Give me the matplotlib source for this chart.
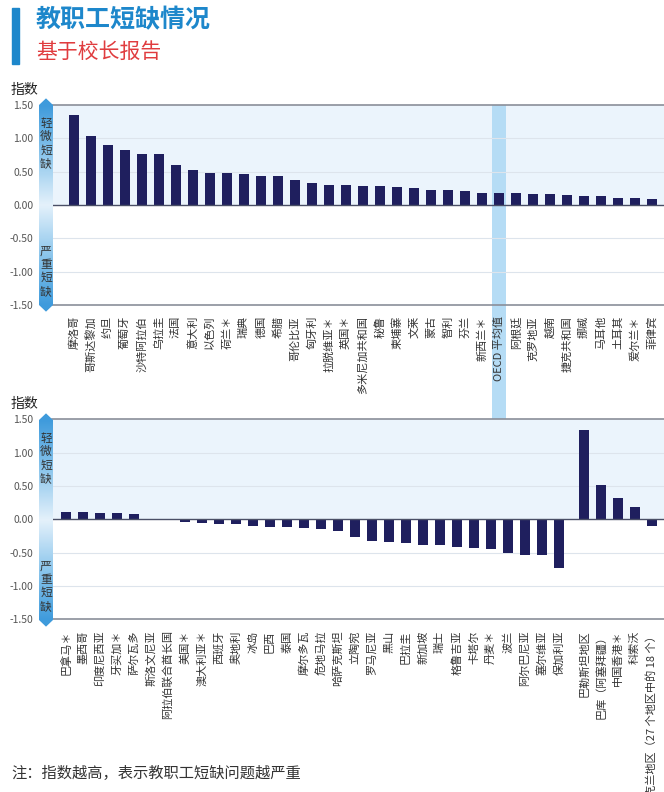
import matplotlib
matplotlib.use('Agg')
import matplotlib.pyplot as plt
import matplotlib.patches as patches
from matplotlib.colors import LinearSegmentedColormap
import numpy as np

plt.rcParams['font.family'] = ['Noto Sans CJK SC', 'DejaVu Sans']

# data
top_labels = ['摩洛哥', '哥斯达黎加', '约旦', '葡萄牙', '沙特阿拉伯', '乌拉圭', '法国', '意大利',
              '以色列', '荷兰＊', '瑞典', '德国', '希腊', '哥伦比亚', '匈牙利', '拉脱维亚＊',
              '英国＊', '多米尼加共和国', '秘鲁', '柬埔寨', '文莱', '蒙古', '智利', '芬兰',
              '新西兰＊', 'OECD 平均值', '阿根廷', '克罗地亚', '越南', '捷克共和国', '挪威',
              '马耳他', '土耳其', '爱尔兰＊', '菲律宾']
top_values = [1.35, 1.04, 0.90, 0.82, 0.76, 0.76, 0.60, 0.52, 0.48, 0.48, 0.46, 0.43,
              0.43, 0.37, 0.33, 0.30, 0.295, 0.29, 0.28, 0.27, 0.26, 0.225, 0.22, 0.21,
              0.185, 0.18, 0.175, 0.16, 0.16, 0.155, 0.14, 0.13, 0.11, 0.10, 0.095]
oecd_label = 'OECD 平均值'

bottom_labels = ['巴拿马＊', '墨西哥', '印度尼西亚', '牙买加＊', '萨尔瓦多', '斯洛文尼亚',
                 '阿拉伯联合酋长国', '美国＊', '澳大利亚＊', '西班牙', '奥地利', '冰岛', '巴西',
                 '泰国', '摩尔多瓦', '危地马拉', '哈萨克斯坦', '立陶宛', '罗马尼亚', '黑山',
                 '巴拉圭', '新加坡', '瑞士', '格鲁吉亚', '卡塔尔', '丹麦＊', '波兰',
                 '阿尔巴尼亚', '塞尔维亚', '保加利亚',
                 '巴勒斯坦地区', '巴库（阿塞拜疆）', '中国香港＊', '科索沃',
                 '乌克兰地区（27 个地区中的 18 个）']
bottom_values = [0.115, 0.11, 0.095, 0.095, 0.085, 0.0, -0.01, -0.035, -0.05, -0.065,
                 -0.075, -0.10, -0.115, -0.115, -0.135, -0.15, -0.18, -0.26, -0.32, -0.34,
                 -0.35, -0.38, -0.38, -0.42, -0.43, -0.45, -0.51, -0.54, -0.54, -0.73,
                 1.34, 0.52, 0.32, 0.19, -0.10]
n_countries = 30  # the last five are partner economies, set apart by a gap

yticks = [1.5, 1.0, 0.5, 0.0, -0.5, -1.0, -1.5]

W, H = 664, 792
def fx(px):
    return px / W
def fy(py):
    return 1 - py / H

BAR = '#1f1f5e'
BLUE = '#1d87cb'

fig = plt.figure(figsize=(W / 100, H / 100), dpi=100)
fig.patch.set_facecolor('white')

arrow_cmap = LinearSegmentedColormap.from_list('arr', ['#e4f1fb', '#8cc6ec', '#3f9bdc'])


def setup(ax, x, labels, values, xlim, zero_py):
    ax.set_xlim(*xlim)
    ax.set_ylim(-1.5, 1.5)
    ax.axhspan(0, 1.5, color='#ebf4fc', zorder=0, lw=0)
    for g in [1.0, 0.5, -0.5, -1.0]:
        ax.axhline(g, color='#dde4ec', lw=0.8, zorder=1)
    ax.bar(x, values, width=0.55, color=BAR, zorder=3)
    ax.axhline(0, color='#4a4f66', lw=1.0, zorder=4)
    for s in ['left', 'right']:
        ax.spines[s].set_visible(False)
    for s in ['top', 'bottom']:
        ax.spines[s].set_color('#8a8f99')
        ax.spines[s].set_linewidth(1.2)
    ax.set_yticks(yticks)
    ax.set_yticklabels(['%.2f' % t for t in yticks])
    ax.tick_params(axis='y', length=0, pad=13.5, labelsize=7.5, labelcolor='#555555')
    ax.set_xticks(x)
    ax.set_xticklabels(labels, rotation=90, fontsize=8, va='top', ha='center',
                       color='#333333')
    ax.tick_params(axis='x', length=0, pad=8)

    # gradient arrow on the left
    aa = fig.add_axes([fx(39), fy(zero_py + 110), fx(14), 220 / H])
    aa.set_xlim(0, 1)
    aa.set_ylim(-1.65, 1.65)
    aa.axis('off')
    yy = np.linspace(-1.65, 1.65, 300)
    img = aa.imshow(np.abs(yy).reshape(-1, 1), extent=(0, 1, -1.65, 1.65), origin='lower',
                    aspect='auto', cmap=arrow_cmap, vmin=0, vmax=1.5)
    shape = patches.Polygon([(0, 1.5), (0.5, 1.6), (1, 1.5), (1, -1.5), (0.5, -1.6), (0, -1.5)],
                            closed=True, facecolor='none', edgecolor='none',
                            transform=aa.transData)
    aa.add_patch(shape)
    img.set_clip_path(shape)
    aa.text(0.5, 0.92, '轻\n微\n短\n缺', ha='center', va='center', fontsize=8.5,
            color='#333333', linespacing=1.05)
    aa.text(0.5, -0.99, '严\n重\n短\n缺', ha='center', va='center', fontsize=8.5,
            color='#333333', linespacing=1.05)


# top chart
ax1 = fig.add_axes([fx(52), fy(305), fx(612), 200 / H])
x1 = np.arange(len(top_values))
setup(ax1, x1, top_labels, top_values, (-1.294, 34.706), 205)
i_oecd = top_labels.index(oecd_label)
ax1.axvspan(i_oecd - 0.44, i_oecd + 0.44, ymin=-0.57, ymax=1, color='#b5dcf5',
            zorder=0.5, clip_on=False, lw=0)

# bottom chart
ax2 = fig.add_axes([fx(52), fy(619.3), fx(612), 200 / H])
x2 = np.arange(len(bottom_values)).astype(float)
x2[n_countries:] += 0.47
setup(ax2, x2, bottom_labels, bottom_values, (-0.824, 35.176), 520)

# titles and notes
fig.patches.append(patches.Rectangle((fx(12), fy(64)), fx(7), 56 / H, color=BLUE,
                                     transform=fig.transFigure, figure=fig))
fig.text(fx(36), fy(20), '教职工短缺情况', fontsize=18, fontweight='bold', color=BLUE,
         va='center', ha='left')
fig.text(fx(36), fy(52), '基于校长报告', fontsize=15, color='#e03c3f', va='center', ha='left')
fig.text(fx(11), fy(90), '指数', fontsize=10, color='#222222', va='center', ha='left')
fig.text(fx(11), fy(404), '指数', fontsize=10, color='#222222', va='center', ha='left')
fig.text(fx(11), fy(773), '注：指数越高，表示教职工短缺问题越严重', fontsize=11,
         color='#333333', va='center', ha='left')

fig.savefig('out.png', dpi=100)
